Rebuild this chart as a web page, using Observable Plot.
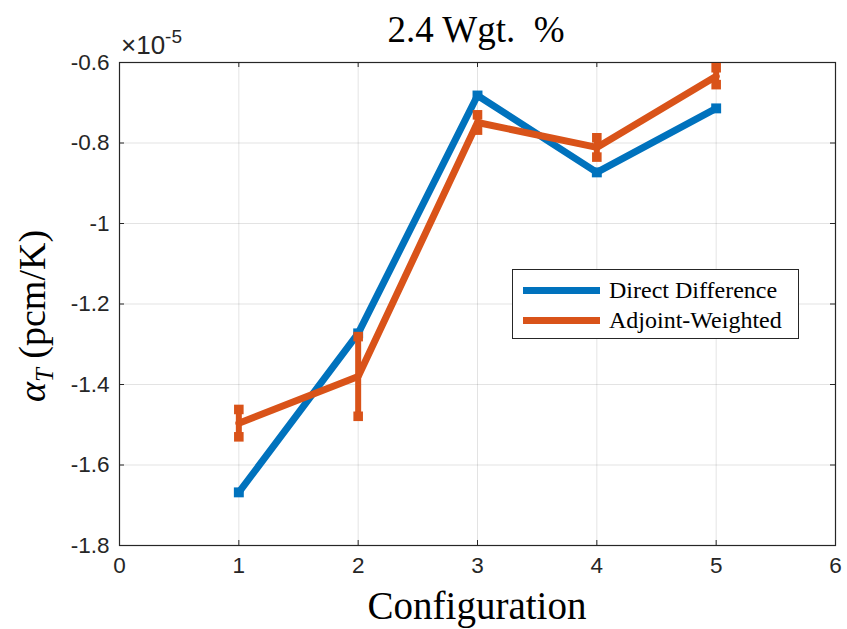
<!DOCTYPE html>
<html><head><meta charset="utf-8">
<script src="https://cdn.jsdelivr.net/npm/d3@7"></script>
<script src="https://cdn.jsdelivr.net/npm/@observablehq/plot@0.6"></script>
<style>
body{margin:0;background:#fff;}
#wrap{position:relative;width:847px;height:629px;overflow:hidden;}
.ov{position:absolute;white-space:nowrap;line-height:1;}
.serif{font-family:"Liberation Serif","DejaVu Serif",serif;color:#000;}
.sans{font-family:"Liberation Sans",Arial,Helvetica,sans-serif;color:#262626;}
</style></head><body><div id="wrap"></div>
<script>
// ---- data (values in units of 1e-5 pcm/K) ----
const configs = [1, 2, 3, 4, 5];
const directDiff = [-1.668, -1.273, -0.682, -0.873, -0.714];
const adjointW = [-1.496, -1.380, -0.749, -0.811, -0.634];
const adjointErr = [0.034, 0.099, 0.019, 0.024, 0.021];
const xTicks = [0, 1, 2, 3, 4, 5, 6];
const xTickLabels = ["0", "1", "2", "3", "4", "5", "6"];
const yTicks = [-1.8, -1.6, -1.4, -1.2, -1, -0.8, -0.6];
const yTickLabels = ["-1.8", "-1.6", "-1.4", "-1.2", "-1", "-0.8", "-0.6"];
const seriesNames = ["Direct Difference", "Adjoint-Weighted"];
const seriesColors = ["#0072BD", "#D95319"];
const titleText = "2.4 Wgt. %";
const xLabel = "Configuration";

const W = 847, H = 629;
const mL = 119, mR = 12, mT = 62, mB = 84;
const xDom = [0, 6], yDom = [-1.8, -0.6];
const plotW = W - mL - mR, plotH = H - mT - mB;
const tickPx = 5;
const dyTick = (yDom[1] - yDom[0]) * tickPx / plotH;
const dxTick = (xDom[1] - xDom[0]) * tickPx / plotW;

const lo = adjointW.map((v, i) => v - adjointErr[i]);
const hi = adjointW.map((v, i) => v + adjointErr[i]);

const axisColor = "#262626";
const chart = Plot.plot({
  width: W, height: H,
  marginLeft: mL, marginRight: mR, marginTop: mT, marginBottom: mB,
  x: {domain: xDom},
  y: {domain: yDom},
  style: {background: "#fff", overflow: "visible"},
  marks: [
    Plot.gridX(xTicks, {stroke: "#000", strokeOpacity: 0.11, strokeWidth: 1}),
    Plot.gridY(yTicks, {stroke: "#000", strokeOpacity: 0.11, strokeWidth: 1}),
    // inward ticks on all four sides
    Plot.ruleX(xTicks, {x: d => d, y1: yDom[0], y2: yDom[0] + dyTick, stroke: axisColor}),
    Plot.ruleX(xTicks, {x: d => d, y1: yDom[1], y2: yDom[1] - dyTick, stroke: axisColor}),
    Plot.ruleY(yTicks, {y: d => d, x1: xDom[0], x2: xDom[0] + dxTick, stroke: axisColor}),
    Plot.ruleY(yTicks, {y: d => d, x1: xDom[1], x2: xDom[1] - dxTick, stroke: axisColor}),
    Plot.frame({stroke: axisColor, strokeWidth: 1.2}),
    Plot.axisX({ticks: xTicks, tickSize: 0, tickPadding: 12, tickFormat: d => xTickLabels[xTicks.indexOf(d)],
      fontSize: 22.5, fontFamily: "Liberation Sans, Arial, sans-serif", fill: axisColor, label: null}),
    Plot.axisY({ticks: yTicks, tickSize: 0, tickPadding: 10, tickFormat: d => yTickLabels[yTicks.indexOf(d)],
      fontSize: 22.5, fontFamily: "Liberation Sans, Arial, sans-serif", fill: axisColor, label: null}),
    // Direct Difference
    Plot.line(configs, {x: configs, y: directDiff, stroke: seriesColors[0], strokeWidth: 7, strokeLinejoin: "miter"}),
    Plot.dot(configs, {x: configs, y: directDiff, symbol: "square", r: 5.6, fill: seriesColors[0], stroke: "none"}),
    // Adjoint-Weighted with error bars
    Plot.line(configs, {x: configs, y: adjointW, stroke: seriesColors[1], strokeWidth: 7, strokeLinejoin: "miter"}),
    Plot.ruleX(configs, {x: configs, y1: lo, y2: hi, stroke: seriesColors[1], strokeWidth: 6}),
    Plot.dot(configs, {x: configs, y: lo, symbol: "square", r: 5.4, fill: seriesColors[1], stroke: "none"}),
    Plot.dot(configs, {x: configs, y: hi, symbol: "square", r: 5.4, fill: seriesColors[1], stroke: "none"})
  ]
});
const wrap = document.getElementById("wrap");
chart.style.position = "absolute";
chart.style.left = "0px";
chart.style.top = "0px";
wrap.appendChild(chart);

function ov(html, cls, css) {
  const d = document.createElement("div");
  d.className = "ov " + cls;
  d.innerHTML = html;
  Object.assign(d.style, css);
  wrap.appendChild(d);
  return d;
}
// title
ov(titleText.replace(". ", ".&nbsp;&nbsp;"), "serif", {left: "476px", top: "11px", transform: "translateX(-50%)", fontSize: "37px"});
// exponent
ov("&times;10<span style='font-size:19px;position:relative;top:-11px'>-5</span>", "sans", {left: "121px", top: "32px", fontSize: "26px"});
// x label
ov(xLabel, "serif", {left: "477px", top: "586px", transform: "translateX(-50%)", fontSize: "39px"});
// y label
ov("<i>&alpha;<sub style='font-size:25px'>T</sub></i>&nbsp;(pcm/K)", "serif",
  {left: "35px", top: "316px", transform: "translate(-50%,-50%) rotate(-90deg)", fontSize: "38px"});
// legend
const leg = ov("", "serif", {left: "512px", top: "269px", width: "287px", height: "70px",
  border: "1.2px solid #262626", background: "#fff", boxSizing: "border-box"});
seriesNames.forEach((name, i) => {
  const row = document.createElement("div");
  Object.assign(row.style, {position: "absolute", left: "10px", top: (5 + i * 30) + "px", height: "30px",
    display: "flex", alignItems: "center"});
  row.innerHTML = `<span style="display:inline-block;width:77px;height:7px;background:${seriesColors[i]};margin-right:9px"></span><span style="font-size:24px">${name}</span>`;
  leg.appendChild(row);
});
</script></body></html>
